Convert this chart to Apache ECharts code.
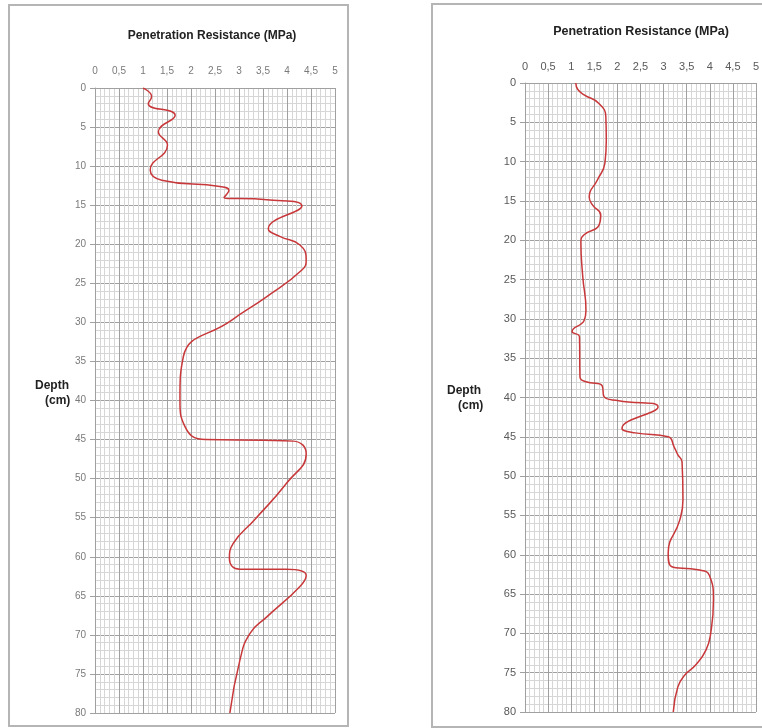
<!DOCTYPE html>
<html>
<head>
<meta charset="utf-8">
<script src="https://cdn.jsdelivr.net/npm/echarts@6/dist/echarts.min.js"></script>
<style>
  html, body { margin: 0; padding: 0; background: #fff; }
  #main { width: 762px; height: 728px; }
</style>
</head>
<body>
<div id="main"></div>
<script>
// x tick labels (comma decimals, as in the original)
var xTickLabels = ['0', '0,5', '1', '1,5', '2', '2,5', '3', '3,5', '4', '4,5', '5'];

// left profile: depth (cm) and penetration resistance (MPa)
var leftDepth = [0, 1.1, 2, 3.5, 5.6, 7.3, 10.5, 11.8, 12.6, 13.1, 14.0, 14.3, 15.1, 18.0, 19.0, 20.1, 22.0, 23.3, 26.7, 29.7, 34.4, 39.9, 43.4, 45.0, 45.1, 45.2, 46.8, 50.6, 55.3, 58.3, 60.2, 61.6, 61.6, 62.4, 63.8, 67.7, 69.8, 73.2, 80];
var leftPR    = [1.0, 1.18, 1.11, 1.67, 1.32, 1.51, 1.15, 1.39, 2.6, 2.79, 2.69, 3.58, 4.31, 3.61, 3.85, 4.27, 4.40, 4.31, 3.58, 2.85, 1.84, 1.77, 1.88, 2.3, 3.51, 4.13, 4.40, 3.99, 3.32, 2.88, 2.80, 3.02, 3.99, 4.40, 4.27, 3.58, 3.23, 3.02, 2.81];

// right profile
var rightDepth = [0, 0.8, 1.5, 2.6, 4.3, 7.3, 10.2, 12.3, 14.5, 15.5, 16.8, 18.1, 19.3, 20.2, 24.6, 28.9, 30.2, 31.6, 32.3, 37.4, 38.0, 38.5, 39.9, 40.4, 41.2, 43.9, 44.5, 45.0, 46.3, 47.3, 48.2, 53.0, 55.6, 59.8, 61.5, 61.9, 62.6, 65.8, 70.0, 72.1, 74.0, 75.3, 76.8, 80];
var rightPR    = [1.10, 1.14, 1.28, 1.60, 1.75, 1.76, 1.73, 1.57, 1.39, 1.46, 1.64, 1.60, 1.28, 1.21, 1.25, 1.32, 1.28, 1.02, 1.18, 1.19, 1.32, 1.67, 1.71, 2.03, 2.88, 2.10, 2.39, 3.10, 3.23, 3.31, 3.40, 3.42, 3.35, 3.10, 3.17, 3.74, 3.99, 4.08, 4.02, 3.92, 3.70, 3.46, 3.31, 3.21];

function pairs(xs, ys) {
    var out = [];
    for (var i = 0; i < xs.length; i++) {
        out.push([xs[i], ys[i]]);
    }
    return out;
}

var chart = echarts.init(document.getElementById('main'));

function makeX(gridIndex, labelColor, labelSize, margin) {
    return {
        gridIndex: gridIndex,
        type: 'value',
        position: 'top',
        min: 0,
        max: 5,
        interval: 0.5,
        axisLine: { show: true, lineStyle: { color: '#a0a0a0', width: 1 } },
        axisTick: { show: false },
        axisLabel: {
            color: labelColor,
            fontSize: labelSize,
            fontFamily: 'Liberation Sans',
            margin: margin,
            formatter: function (v) { return xTickLabels[Math.round(v / 0.5)]; }
        },
        splitLine: { show: true, lineStyle: { color: '#a0a0a0', width: 1 } },
        minorTick: { show: false, splitNumber: 5 },
        minorSplitLine: { show: true, lineStyle: { color: '#d6d6d6', width: 1 } }
    };
}

function makeY(gridIndex, labelColor, labelSize) {
    return {
        gridIndex: gridIndex,
        type: 'value',
        inverse: true,
        min: 0,
        max: 80,
        interval: 5,
        axisLine: { show: true, lineStyle: { color: '#a0a0a0', width: 1 } },
        axisTick: { show: true, length: 5, inside: false, lineStyle: { color: '#a0a0a0' } },
        axisLabel: {
            color: labelColor,
            fontSize: labelSize,
            fontFamily: 'Liberation Sans',
            margin: 9
        },
        splitLine: { show: true, lineStyle: { color: '#a0a0a0', width: 1 } },
        minorTick: { show: false, splitNumber: 5 },
        minorSplitLine: { show: true, lineStyle: { color: '#d6d6d6', width: 1 } }
    };
}

var option = {
    backgroundColor: '#fff',
    animation: false,
    title: [
        {
            text: 'Penetration Resistance (MPa)',
            left: 207, top: 25, textAlign: 'center',
            textStyle: { fontSize: 12, fontWeight: 'bold', color: '#222', fontFamily: 'Liberation Sans' }
        },
        {
            text: 'Penetration Resistance (MPa)',
            left: 636, top: 20, textAlign: 'center',
            textStyle: { fontSize: 12.5, fontWeight: 'bold', color: '#222', fontFamily: 'Liberation Sans' }
        }
    ],
    grid: [
        { left: 95, top: 88, width: 240, height: 625 },
        { left: 525, top: 83, width: 234, height: 629 }
    ],
    xAxis: [
        makeX(0, '#7a7a7a', 10, 12),
        makeX(1, '#595959', 11, 11)
    ],
    yAxis: [
        makeY(0, '#7a7a7a', 10),
        makeY(1, '#595959', 11)
    ],
    graphic: [
        { type: 'rect', shape: { x: 9, y: 5, width: 339, height: 721 },
          style: { fill: 'none', stroke: '#b5b5b5', lineWidth: 2 }, z: -1 },
        { type: 'rect', shape: { x: 432, y: 4, width: 340, height: 723 },
          style: { fill: 'none', stroke: '#b5b5b5', lineWidth: 2 }, z: -1 },
        { type: 'text', left: 35, top: 380,
          style: { text: 'Depth', fontSize: 12, fontWeight: 'bold', fill: '#222', fontFamily: 'Liberation Sans' } },
        { type: 'text', left: 45, top: 395,
          style: { text: '(cm)', fontSize: 12, fontWeight: 'bold', fill: '#222', fontFamily: 'Liberation Sans' } },
        { type: 'text', left: 447, top: 385,
          style: { text: 'Depth', fontSize: 12, fontWeight: 'bold', fill: '#222', fontFamily: 'Liberation Sans' } },
        { type: 'text', left: 458, top: 400,
          style: { text: '(cm)', fontSize: 12, fontWeight: 'bold', fill: '#222', fontFamily: 'Liberation Sans' } }
    ],
    series: [
        {
            type: 'line',
            xAxisIndex: 0, yAxisIndex: 0,
            data: pairs(leftPR, leftDepth),
            showSymbol: false,
            smooth: 0.5,
            lineStyle: { color: '#c8383a', width: 1.5 }
        },
        {
            type: 'line',
            xAxisIndex: 1, yAxisIndex: 1,
            data: pairs(rightPR, rightDepth),
            showSymbol: false,
            smooth: 0.5,
            lineStyle: { color: '#c8383a', width: 1.5 }
        }
    ]
};

chart.setOption(option);
</script>
</body>
</html>
